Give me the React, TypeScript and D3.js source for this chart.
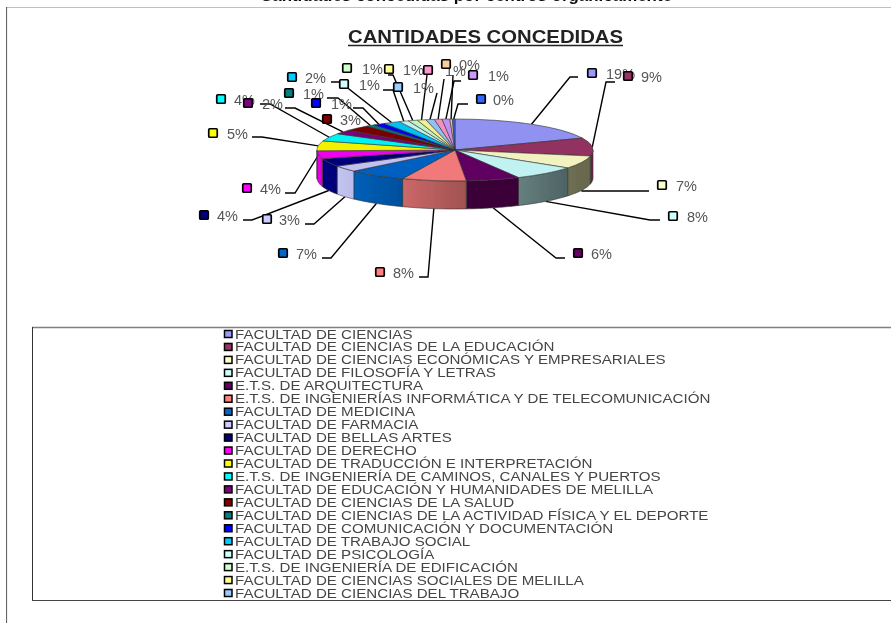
import React from "react";
import * as d3 from "d3";

// percentages (labels are rounded, slice sizes are not)
const values = [18.7, 9.4, 6.7, 7.6, 6.3, 7.5, 6.9, 3.2, 4.2, 4.1, 5.1, 4.1, 2.2, 3.0, 1.0, 1.4, 2.0, 1.1, 1.1, 1.0, 1.0, 0.9, 0.9, 0.3, 0.3];
const percentLabels = ["19%", "9%", "7%", "8%", "6%", "8%", "7%", "3%", "4%", "4%", "5%", "4%", "2%", "3%", "1%", "1%", "2%", "1%", "1%", "1%", "1%", "1%", "1%", "0%", "0%"];
const colors = ["#9999FF", "#993366", "#FFFFCC", "#CCFFFF", "#660066", "#FF8080", "#0066CC", "#CCCCFF", "#000080", "#FF00FF", "#FFFF00", "#00FFFF", "#800080", "#800000", "#008080", "#0000FF", "#00CCFF", "#CCFFFF", "#CCFFCC", "#FFFF99", "#99CCFF", "#FF99CC", "#CC99FF", "#FFCC99", "#3366FF"];
// the legend is cut off in the picture: only the first 21 names are visible
const legendNames = [
  "FACULTAD DE CIENCIAS",
  "FACULTAD DE CIENCIAS DE LA EDUCACIÓN",
  "FACULTAD DE CIENCIAS ECONÓMICAS Y EMPRESARIALES",
  "FACULTAD DE FILOSOFÍA Y LETRAS",
  "E.T.S. DE ARQUITECTURA",
  "E.T.S. DE INGENIERÍAS INFORMÁTICA Y DE TELECOMUNICACIÓN",
  "FACULTAD DE MEDICINA",
  "FACULTAD DE FARMACIA",
  "FACULTAD DE BELLAS ARTES",
  "FACULTAD DE DERECHO",
  "FACULTAD DE TRADUCCIÓN E INTERPRETACIÓN",
  "E.T.S. DE INGENIERÍA DE CAMINOS, CANALES Y PUERTOS",
  "FACULTAD DE EDUCACIÓN Y HUMANIDADES DE MELILLA",
  "FACULTAD DE CIENCIAS DE LA SALUD",
  "FACULTAD DE CIENCIAS DE LA ACTIVIDAD FÍSICA Y EL DEPORTE",
  "FACULTAD DE COMUNICACIÓN Y DOCUMENTACIÓN",
  "FACULTAD DE TRABAJO SOCIAL",
  "FACULTAD DE PSICOLOGÍA",
  "E.T.S. DE INGENIERÍA DE EDIFICACIÓN",
  "FACULTAD DE CIENCIAS SOCIALES DE MELILLA",
  "FACULTAD DE CIENCIAS DEL TRABAJO",
];

// side wall shading of the slices that face the viewer [left, right]
const sideShades: Record<number, [string, string]> = {
  1: ["#6e1f48", "#6e1f48"],
  2: ["#6f6f55", "#66664c"],
  3: ["#668080", "#4e6262"],
  4: ["#3a0038", "#3a0038"],
  5: ["#cc6868", "#a05252"],
  6: ["#0060b8", "#004f9c"],
  7: ["#c4c4f2", "#bcbcea"],
  8: ["#000080", "#000078"],
  9: ["#f000f0", "#d000d0"],
};

// hand placed callouts: swatch, text start, and where the leader turns
type Callout = { sx: number; sy: number; tx: number; ex?: number; ey?: number; hx?: number };
const callouts: Callout[] = [
  { sx: 592, sy: 73, tx: 606, ex: 570, ey: 77, hx: 578 },
  { sx: 628, sy: 76, tx: 641, ex: 606, ey: 82, hx: 615 },
  { sx: 662, sy: 185, tx: 676, ex: 582, ey: 191, hx: 649 },
  { sx: 673, sy: 216, tx: 687, ex: 650, ey: 220, hx: 660 },
  { sx: 578, sy: 253, tx: 591, ex: 556, ey: 258, hx: 565 },
  { sx: 380, sy: 272, tx: 393, ex: 428, ey: 277, hx: 419 },
  { sx: 283, sy: 253, tx: 296, ex: 331, ey: 258, hx: 322 },
  { sx: 267, sy: 219, tx: 279, ex: 314, ey: 224, hx: 305 },
  { sx: 204, sy: 215, tx: 217, ex: 252, ey: 220, hx: 243 },
  { sx: 247, sy: 188, tx: 260, ex: 295, ey: 193, hx: 285 },
  { sx: 213, sy: 133, tx: 227, ex: 262, ey: 137, hx: 252 },
  { sx: 221, sy: 99, tx: 234, ex: 270, ey: 104, hx: 260 },
  { sx: 248, sy: 103, tx: 262, ex: 295, ey: 108, hx: 285 },
  { sx: 327, sy: 119, tx: 340 },
  { sx: 289, sy: 93, tx: 303, ex: 338, ey: 98, hx: 327 },
  { sx: 316, sy: 103, tx: 331, ex: 363, ey: 108, hx: 353 },
  { sx: 292, sy: 77, tx: 305, ex: 340, ey: 82, hx: 331 },
  { sx: 344, sy: 84, tx: 359, ex: 393, ey: 90, hx: 383 },
  { sx: 347, sy: 68, tx: 362, ex: 393, ey: 75, hx: 388 },
  { sx: 389, sy: 69, tx: 403, ex: 427, ey: 75 },
  { sx: 398, sy: 87, tx: 413, ex: 437, ey: 93 },
  { sx: 428, sy: 70, tx: 445, ex: 444, ey: 79 },
  { sx: 473, sy: 75, tx: 488, ex: 454, ey: 81, hx: 461 },
  { sx: 446, sy: 64, tx: 459, ex: 453, ey: 75 },
  { sx: 481, sy: 99, tx: 493, ex: 458, ey: 104, hx: 468 },
];

const cx = 455;
const cy = 150;
const rx = 138;
const ry = 31;
const depth = 28;
const font = "'Liberation Sans', Arial, sans-serif";

const rimX = (a: number) => cx + rx * Math.sin(a);
const rimY = (a: number) => cy - ry * Math.cos(a);

export default function App() {
  const slices = d3.pie<number>().sort(null).value((d) => d)(values);
  const arc = d3.arc<d3.PieArcDatum<number>>().innerRadius(0).outerRadius(rx);
  const line = d3.line();

  const legendY = d3.scaleLinear().domain([0, legendNames.length - 1]).range([334, 593]);

  // outline of the visible part of a slice wall
  const wall = (start: number, end: number) => {
    const a0 = Math.max(start, Math.PI / 2);
    const a1 = Math.min(end, (3 * Math.PI) / 2);
    if (a1 <= a0) return null;
    const steps = d3.range(0, 25).map((i) => a0 + ((a1 - a0) * i) / 24);
    const top = steps.map((a) => [rimX(a), rimY(a)] as [number, number]);
    const bottom = steps.slice().reverse().map((a) => [rimX(a), rimY(a) + depth] as [number, number]);
    return line([...top, ...bottom]) + "Z";
  };

  return (
    <svg
      width={891}
      height={623}
      viewBox="0 0 891 623"
      style={{ position: "absolute", left: 0, top: 0, background: "#fff", display: "block" }}
      fontFamily={font}
    >
      <defs>
        <filter id="soft" x="0" y="0" width="100%" height="100%">
          <feGaussianBlur stdDeviation="0.5" />
        </filter>
        {Object.entries(sideShades).map(([i, [a, b]]) => (
          <linearGradient key={i} id={`side${i}`} x1="0" x2="1" y1="0" y2="0">
            <stop offset="0" stopColor={a} />
            <stop offset="1" stopColor={b} />
          </linearGradient>
        ))}
      </defs>

      <g filter="url(#soft)">
        {/* page heading, cut by the top of the picture */}
        <text x={466} y={1} textAnchor="middle" fontSize={16} fontWeight="bold" fill="#111" textLength={412} lengthAdjust="spacingAndGlyphs">
          Cantidades concedidas por centros orgánicamente
        </text>
        <line x1={6} x2={891} y1={7.5} y2={7.5} stroke="#c0c0c0" strokeWidth={1.2} />
        <line x1={6.5} x2={6.5} y1={7} y2={623} stroke="#666" strokeWidth={1.2} />

        <text x={485.5} y={42.5} textAnchor="middle" fontSize={18} fontWeight="bold" fill="#222" textLength={275} lengthAdjust="spacingAndGlyphs">
          CANTIDADES CONCEDIDAS
        </text>
        <line x1={348} x2={623} y1={45.5} y2={45.5} stroke="#222" strokeWidth={1.4} />

        {/* leaders */}
        {slices.map((s, i) => {
          const c = callouts[i];
          if (c.ex === undefined || c.ey === undefined) return null;
          const mid = (s.startAngle + s.endAngle) / 2;
          const drop = -Math.cos(mid) > 0.2 ? depth : 0;
          const pts: [number, number][] = [[rimX(mid), rimY(mid) + drop], [c.ex, c.ey]];
          if (c.hx !== undefined) pts.push([c.hx, c.ey]);
          return <path key={i} d={line(pts) ?? ""} fill="none" stroke="#000" strokeWidth={1.4} />;
        })}

        {/* pie walls */}
        {slices.map((s, i) => {
          const d = wall(s.startAngle, s.endAngle);
          if (!d) return null;
          return <path key={i} d={d} fill={`url(#side${i})`} stroke="#333" strokeWidth={0.6} />;
        })}

        {/* pie top */}
        <g transform={`translate(${cx},${cy}) scale(1,${ry / rx})`}>
          {slices.map((s, i) => (
            <path
              key={i}
              d={arc(s) ?? ""}
              fill={d3.rgb(colors[i]).darker(0.15).formatHex()}
              stroke="#333"
              strokeWidth={0.6}
              vectorEffect="non-scaling-stroke"
            />
          ))}
        </g>

        {/* percentage callouts */}
        {percentLabels.map((label, i) => {
          const c = callouts[i];
          return (
            <g key={i}>
              <rect x={c.sx - 4.25} y={c.sy - 4.25} width={8.5} height={8.5} rx={1} fill={colors[i]} stroke="#000" strokeWidth={1.7} />
              <text x={c.tx} y={c.sy + 6} fontSize={14.5} fill="#555">
                {label}
              </text>
            </g>
          );
        })}

        {/* legend box */}
        <line x1={32} x2={891} y1={327.5} y2={327.5} stroke="#808080" strokeWidth={1.4} />
        <line x1={32.5} x2={32.5} y1={327} y2={600} stroke="#333" strokeWidth={1} />
        <line x1={32} x2={891} y1={600.5} y2={600.5} stroke="#444" strokeWidth={1.2} />
        {legendNames.map((name, i) => (
          <g key={name}>
            <rect x={224.5} y={legendY(i) - 3.5} width={7.5} height={7} fill={colors[i]} stroke="#000" strokeWidth={1.5} />
            {/* the scan stretches this text sideways */}
            <text transform={`translate(235,${legendY(i) + 4.5}) scale(1.12,1)`} fontSize={13.5} fill="#444">
              {name}
            </text>
          </g>
        ))}
      </g>
    </svg>
  );
}
